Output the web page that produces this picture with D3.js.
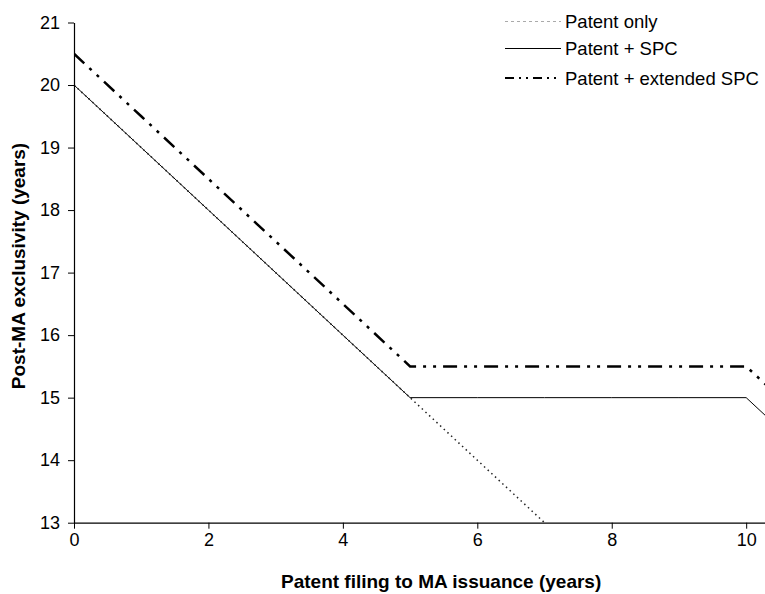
<!DOCTYPE html>
<html>
<head>
<meta charset="utf-8">
<script src="https://cdn.jsdelivr.net/npm/d3@7"></script>
<style>
  body { margin: 0; background: #fff; }
  svg text { font-family: "Liberation Sans", Arial, sans-serif; fill: #000; }
</style>
</head>
<body>
<div id="chart"></div>
<script>
// Data
var years = [0, 1, 2, 3, 4, 5, 6, 7, 8, 9, 10, 11];
var patentOnly = [20, 19, 18, 17, 16, 15, 14, 13, null, null, null, null];
var patentSpc = [20, 19, 18, 17, 16, 15, 15, 15, 15, 15, 15, 14];
var patentExtSpc = [20.5, 19.5, 18.5, 17.5, 16.5, 15.5, 15.5, 15.5, 15.5, 15.5, 15.5, 14.5];
var xTicks = [0, 2, 4, 6, 8, 10];
var yTicks = [13, 14, 15, 16, 17, 18, 19, 20, 21];
var seriesNames = ["Patent only", "Patent + SPC", "Patent + extended SPC"];

var W = 765, H = 594;
var margin = { left: 74, right: 765, top: 22.5, bottom: 522.7 };

var svg = d3.select("#chart").append("svg")
    .attr("width", W)
    .attr("height", H);

var x = d3.scaleLinear().domain([0, 10.28]).range([margin.left, margin.right]);
var y = d3.scaleLinear().domain([13, 21]).range([margin.bottom, margin.top]);

// series styles
var styles = [
  { data: patentOnly, stroke: "#222", width: 1.5, dash: "1.5,3.5" },
  { data: patentSpc, stroke: "#000", width: 1, dash: null },
  { data: patentExtSpc, stroke: "#000", width: 2.5, dash: "14,7,3,7,3,7" }
];

svg.append("clipPath").attr("id", "clip")
  .append("rect")
    .attr("x", margin.left).attr("y", margin.top - 5)
    .attr("width", margin.right - margin.left)
    .attr("height", margin.bottom - margin.top + 5);

var line = d3.line()
    .defined(function(d) { return d.v != null; })
    .x(function(d) { return x(d.x); })
    .y(function(d) { return y(d.v); });

var plot = svg.append("g").attr("clip-path", "url(#clip)");

// solid first, then the others on top
[1, 2, 0].forEach(function(i) {
  var s = styles[i];
  var pts = years.map(function(yr, j) { return { x: yr, v: s.data[j] }; });
  plot.append("path")
      .datum(pts)
      .attr("fill", "none")
      .attr("stroke", s.stroke)
      .attr("stroke-width", s.width)
      .attr("stroke-dasharray", s.dash)
      .attr("d", line);
});

// axes
var xAxis = svg.append("g")
    .attr("transform", "translate(0," + margin.bottom + ")")
    .call(d3.axisBottom(x).tickValues(xTicks).tickSize(6).tickSizeOuter(0).tickPadding(5));
var yAxis = svg.append("g")
    .attr("transform", "translate(" + margin.left + ",0)")
    .call(d3.axisLeft(y).tickValues(yTicks).tickSize(6).tickSizeOuter(0).tickPadding(8));

[xAxis, yAxis].forEach(function(a) {
  a.attr("font-size", 18).attr("font-family", null);
  a.select(".domain").attr("stroke", "#000").attr("stroke-width", 1.2);
  a.selectAll(".tick line").attr("stroke", "#000");
  a.selectAll(".tick text").attr("fill", "#000");
});

// axis titles
svg.append("text")
    .attr("x", 281).attr("y", 588)
    .style("font-size", "19px").style("font-weight", "bold")
    .text("Patent filing to MA issuance (years)");

svg.append("text")
    .attr("transform", "translate(25,266) rotate(-90)")
    .attr("text-anchor", "middle")
    .style("font-size", "19px").style("font-weight", "bold")
    .text("Post-MA exclusivity (years)");

// legend
var legendY = [21.5, 48.5, 78];
var legend = svg.append("g");
seriesNames.forEach(function(name, i) {
  var s = styles[i];
  var ly = legendY[i];
  legend.append("line")
      .attr("x1", 505).attr("x2", 561)
      .attr("y1", ly).attr("y2", ly)
      .attr("stroke", i == 0 ? "#aaa" : s.stroke)
      .attr("stroke-width", i == 2 ? 2 : 1)
      .attr("stroke-dasharray", i == 0 ? "3,3" : (i == 2 ? "9,5,2,5,2,5" : null));
  legend.append("text")
      .attr("x", 565).attr("y", ly + 6.5)
      .style("font-size", "18.5px")
      .text(name);
});
</script>
</body>
</html>
